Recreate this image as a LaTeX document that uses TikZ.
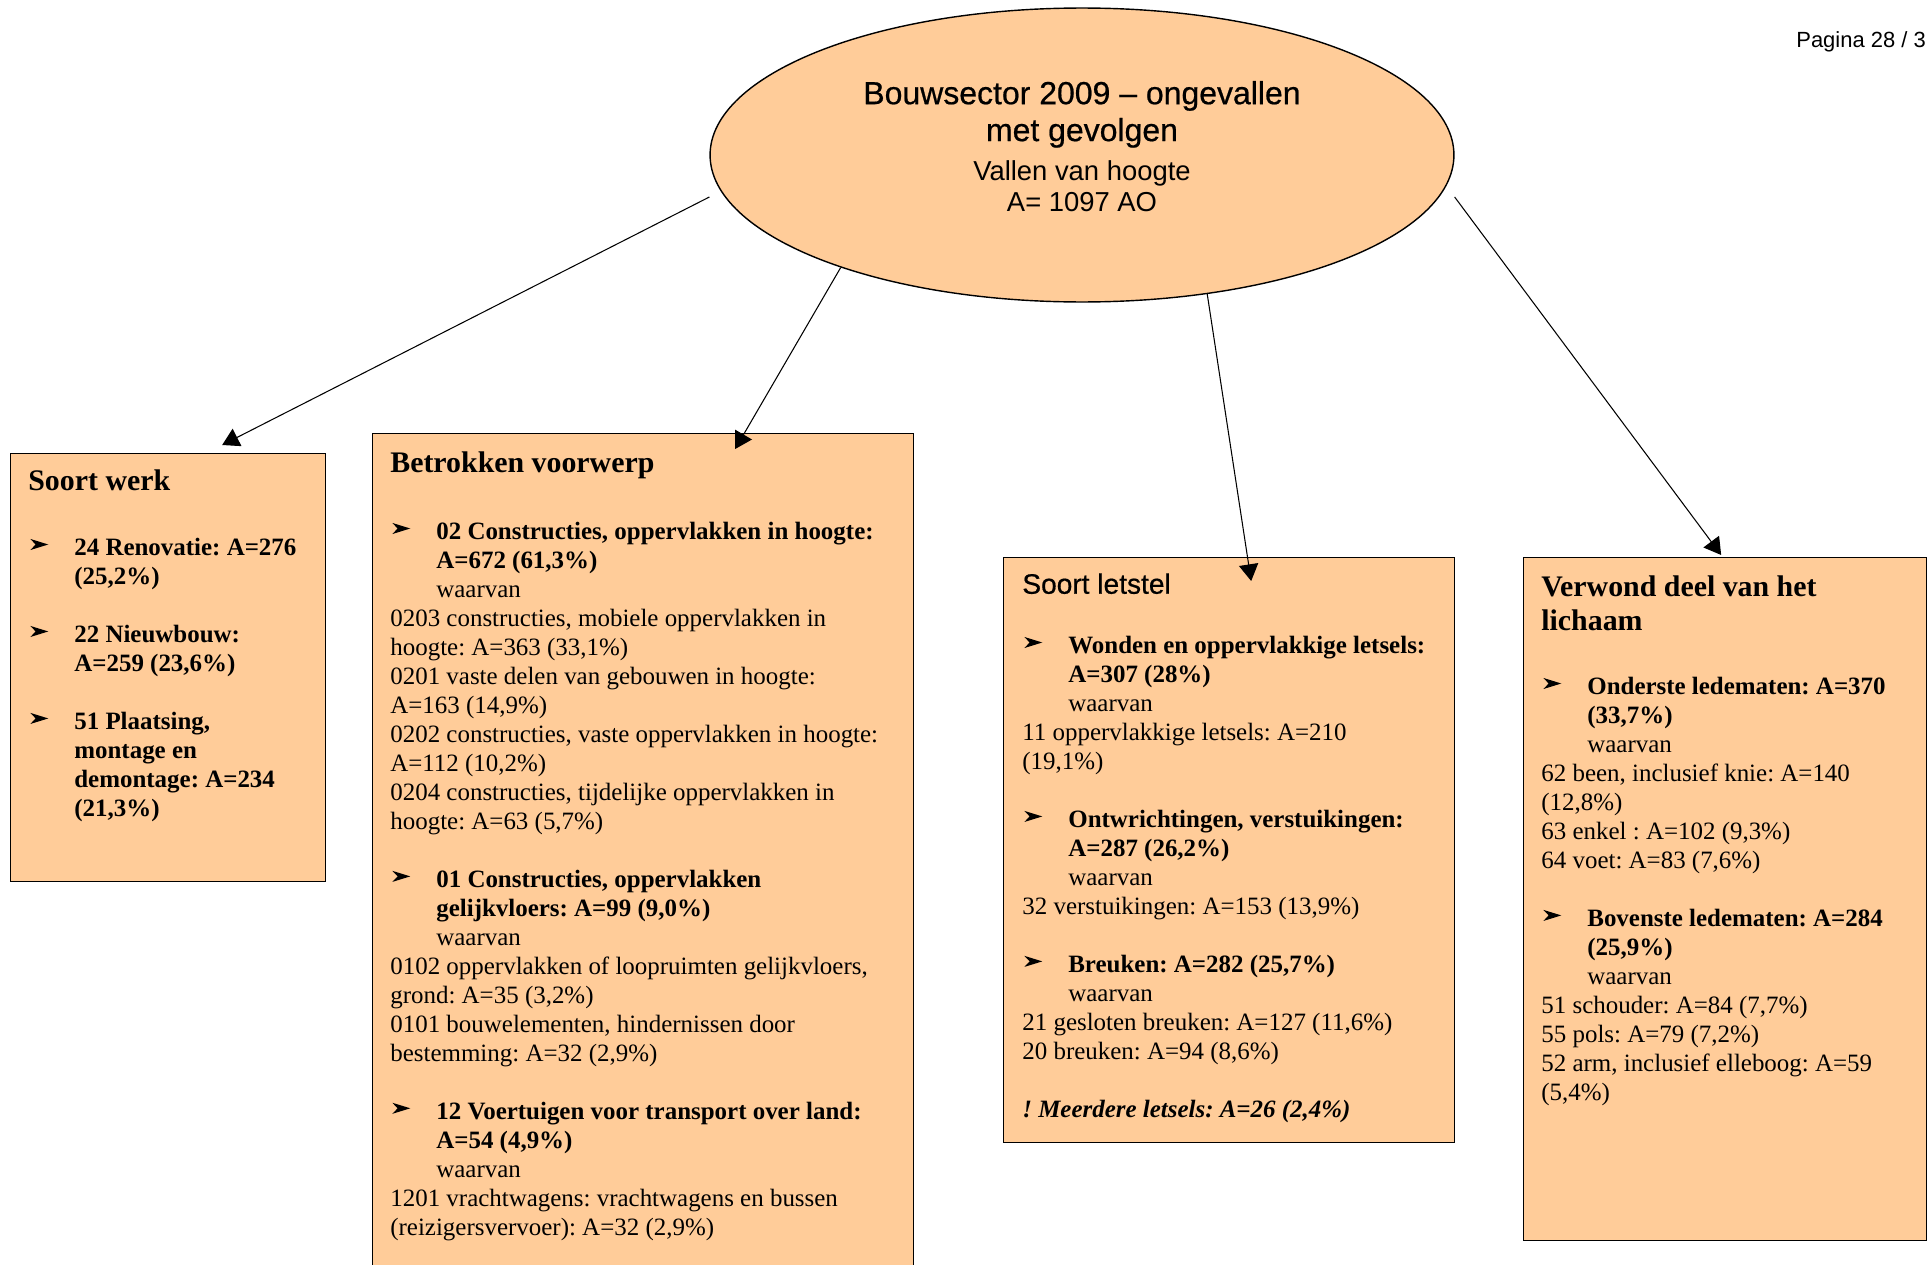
\documentclass[tikz,border=0pt]{standalone}
\usepackage{fontspec}
\setmainfont{Liberation Serif}
\newfontfamily\arial{Liberation Sans}
\newfontfamily\arialvet[FakeBold=0.6]{Liberation Sans}
\usetikzlibrary{arrows.meta,positioning,shapes.geometric}
\definecolor{perzik}{RGB}{255,204,153}
\frenchspacing
\newlength\einzug
\setlength\einzug{0.92cm}
\newcommand\regel{16.5pt}
\newcommand\pijlteken{\tikz[baseline=-3.2pt]\fill (0,0) -- (10.2pt,3.15pt) -- (0,6.3pt) -- (3pt,3.15pt) -- cycle;}
\newcommand\pijl{\makebox[\einzug][l]{\hspace{0.04cm}\pijlteken}}
\newcommand\inspring{\hspace*{\einzug}}
\tikzset{
  vak/.style={draw, line width=0.8pt, fill=perzik, anchor=north west, inner sep=0},
  tekst/.style={anchor=north west, inner sep=0, align=left, font=\fontsize{14.2}{16.5}\selectfont},
  kopje/.style={anchor=north west, inner sep=0, align=left, font=\bfseries\fontsize{17}{19}\selectfont},
  verbinding/.style={-{Triangle[length=9.5pt,width=11pt]}, line width=0.6pt}
}
\begin{document}
\begin{tikzpicture}[x=0.02cm, y=-0.02cm]
	\useasboundingbox (0,0) rectangle (1929,1264);
	% kern van het schema
	\node[ellipse, draw, line width=0.8pt, fill=perzik, minimum width=14.88cm, minimum height=5.88cm, inner sep=0] (kern) at (1082,155) {};
	\node[anchor=north, inner sep=0, align=center, font=\arialvet\fontsize{18.2}{21}\selectfont] (kerntitel) at (1082,78) {\strut Bouwsector 2009 – ongevallen\\met gevolgen};
	\node[anchor=north, inner sep=0, align=center, font=\arial\fontsize{15.6}{17.6}\selectfont] (kernsub) at (1082,159) {\strut Vallen van hoogte\\A= 1097 AO};
	\node[anchor=base west, inner sep=0, font=\arial\fontsize{12.5}{15}\selectfont] (pagina) at (1796,48) {Pagina 28 / 3};
	% de vier vakken
	\node[vak, minimum width=6.3cm, minimum height=8.56cm] (werk) at (10,453) {};
	\node[vak, minimum width=10.82cm, minimum height=16.74cm] (voorwerp) at (372,433) {};
	\node[vak, minimum width=9.02cm, minimum height=11.7cm] (letstel) at (1003,557) {};
	\node[vak, minimum width=8.06cm, minimum height=13.66cm] (lichaam) at (1523,557) {};
	% soort werk
	\node[kopje] (werkkop) at ([shift={(18,14)}]werk.north west) {\strut Soort werk};
	\node[tekst] (werktekst) at ([shift={(18,82)}]werk.north west) {\strut\pijl\textbf{24 Renovatie: A=276}\\
		\inspring\textbf{(25,2\%)}\\[\regel]
		\pijl\textbf{22 Nieuwbouw:}\\
		\inspring\textbf{A=259 (23,6\%)}\\[\regel]
		\pijl\textbf{51 Plaatsing,}\\
		\inspring\textbf{montage en}\\
		\inspring\textbf{demontage: A=234}\\
		\inspring\textbf{(21,3\%)}};
	% betrokken voorwerp
	\node[kopje] (voorwerpkop) at ([shift={(18,16)}]voorwerp.north west) {\strut Betrokken voorwerp};
	\node[tekst] (voorwerptekst) at ([shift={(18,86)}]voorwerp.north west) {\strut\pijl\textbf{02 Constructies, oppervlakken in hoogte:}\\
		\inspring\textbf{A=672 (61,3\%)}\\
		\inspring waarvan\\
		0203 constructies, mobiele oppervlakken in\\
		hoogte: A=363 (33,1\%)\\
		0201 vaste delen van gebouwen in hoogte:\\
		A=163 (14,9\%)\\
		0202 constructies, vaste oppervlakken in hoogte:\\
		A=112 (10,2\%)\\
		0204 constructies, tijdelijke oppervlakken in\\
		hoogte: A=63 (5,7\%)\\[\regel]
		\pijl\textbf{01 Constructies, oppervlakken}\\
		\inspring\textbf{gelijkvloers: A=99 (9,0\%)}\\
		\inspring waarvan\\
		0102 oppervlakken of loopruimten gelijkvloers,\\
		grond: A=35 (3,2\%)\\
		0101 bouwelementen, hindernissen door\\
		bestemming: A=32 (2,9\%)\\[\regel]
		\pijl\textbf{12 Voertuigen voor transport over land:}\\
		\inspring\textbf{A=54 (4,9\%)}\\
		\inspring waarvan\\
		1201 vrachtwagens: vrachtwagens en bussen\\
		(reizigersvervoer): A=32 (2,9\%)};
	% soort letstel
	\node[kopje, font=\arialvet\fontsize{16}{19}\selectfont] (letstelkop) at ([shift={(19,13)}]letstel.north west) {\strut Soort letstel};
	\node[tekst] (letsteltekst) at ([shift={(19,76)}]letstel.north west) {\strut\pijl\textbf{Wonden en oppervlakkige letsels:}\\
		\inspring\textbf{A=307 (28\%)}\\
		\inspring waarvan\\
		11 oppervlakkige letsels: A=210\\
		(19,1\%)\\[\regel]
		\pijl\textbf{Ontwrichtingen, verstuikingen:}\\
		\inspring\textbf{A=287 (26,2\%)}\\
		\inspring waarvan\\
		32 verstuikingen: A=153 (13,9\%)\\[\regel]
		\pijl\textbf{Breuken: A=282 (25,7\%)}\\
		\inspring waarvan\\
		21 gesloten breuken: A=127 (11,6\%)\\
		20 breuken: A=94 (8,6\%)\\[\regel]
		\textbf{\textit{! Meerdere letsels: A=26 (2,4\%)}}};
	% verwond deel van het lichaam
	\node[kopje] (lichaamkop) at ([shift={(18,16)}]lichaam.north west) {\strut Verwond deel van het\\lichaam};
	\node[tekst] (lichaamtekst) at ([shift={(18,117)}]lichaam.north west) {\strut\pijl\textbf{Onderste ledematen: A=370}\\
		\inspring\textbf{(33,7\%)}\\
		\inspring waarvan\\
		62 been, inclusief knie: A=140\\
		(12,8\%)\\
		63 enkel : A=102 (9,3\%)\\
		64 voet: A=83 (7,6\%)\\[\regel]
		\pijl\textbf{Bovenste ledematen: A=284}\\
		\inspring\textbf{(25,9\%)}\\
		\inspring waarvan\\
		51 schouder: A=84 (7,7\%)\\
		55 pols: A=79 (7,2\%)\\
		52 arm, inclusief elleboog: A=59\\
		(5,4\%)};
	% pijlen
	\draw[verbinding] ([shift={(0,42)}]kern.west) -- ([shift={(54,-8)}]werk.north);
	\draw[verbinding] (kern.205.7) -- ([shift={(92,16)}]voorwerp.north);
	\draw[verbinding] (kern.312.8) -- ([shift={(22,24)}]letstel.north);
	\draw[verbinding] ([shift={(0,42)}]kern.east) -- ([shift={(-4,-2)}]lichaam.north);
\end{tikzpicture}
\end{document}
